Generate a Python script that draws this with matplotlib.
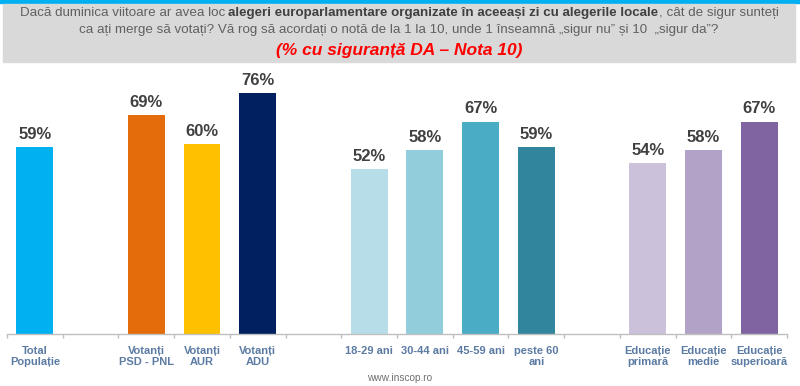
import matplotlib
matplotlib.use("Agg")
import matplotlib.pyplot as plt
from matplotlib.patches import Rectangle

plt.rcParams['font.family'] = ['Liberation Sans', 'DejaVu Sans']

categories = ["Total\nPopulație", "", "Votanți\nPSD - PNL", "Votanți\nAUR", "Votanți\nADU", "",
              "18-29 ani", "30-44 ani", "45-59 ani", "peste 60\nani", "",
              "Educație\nprimară", "Educație\nmedie", "Educație\nsuperioară"]
values = [59, None, 69, 60, 76, None, 52, 58, 67, 59, None, 54, 58, 67]
colors = ["#00B0F0", None, "#E46C0A", "#FFC000", "#002060", None,
          "#B7DEE8", "#92CDDC", "#4BACC6", "#31859C", None,
          "#CCC1DA", "#B3A2C7", "#8064A2"]

W, H = 800, 386
fig = plt.figure(figsize=(8, 3.86), dpi=100)

# header
fig.patches.append(Rectangle((0, 1 - 2.5 / H), 1, 2.5 / H, transform=fig.transFigure,
                             color="#00B0F0", zorder=0))
fig.patches.append(Rectangle((3 / W, 1 - 62 / H), 792 / W, 58 / H, transform=fig.transFigure,
                             color="#D9D9D9", zorder=0))

fs = 9.6
line1 = [("Dacă duminica viitoare ar avea loc ", "normal", "#606060"),
         ("alegeri europarlamentare organizate în aceeași zi cu alegerile locale", "bold", "#404040"),
         (", cât de sigur sunteți", "normal", "#606060")]
line2 = [("ca ați merge să votați? Vă rog să acordați o notă de la 1 la 10, unde 1 înseamnă „sigur nu” și 10  „sigur da”?",
          "normal", "#606060")]

renderer = fig.canvas.get_renderer()


def draw_line(pieces, ycenter_px):
    texts = []
    for s, w, c in pieces:
        t = fig.text(0, 1 - ycenter_px / H, s, fontsize=fs, fontweight=w, color=c,
                     ha="left", va="center")
        texts.append(t)
    widths = [t.get_window_extent(renderer).width for t in texts]
    total = sum(widths)
    x = 399 - total / 2
    for t, wd in zip(texts, widths):
        t.set_x(x / W)
        x += wd


draw_line(line1, 13)
draw_line(line2, 29.5)
fig.text(399 / W, 1 - 50 / H, "(% cu siguranță DA – Nota 10)", fontsize=12.5, fontweight="bold",
         fontstyle="italic", color="#FF0000", ha="center", va="center")

ax = fig.add_axes([7 / W, 52 / H, 780 / W, 260 / H])
for i, (v, c) in enumerate(zip(values, colors)):
    if v is None:
        continue
    ax.bar(i, v, width=0.66, color=c, zorder=2)
    ax.text(i, v + 1.6, f"{v}%", ha="center", va="bottom", fontsize=12, fontweight="bold",
            color="#404040")

ax.set_xlim(-0.5, len(categories) - 0.5)
ax.set_ylim(0, 82)
for s in ["top", "right", "left"]:
    ax.spines[s].set_visible(False)
ax.spines["bottom"].set_color("#BFBFBF")
ax.spines["bottom"].set_linewidth(1.0)
ax.set_yticks([])
ax.set_xticks([i - 0.5 for i in range(len(categories) + 1)])
ax.set_xticklabels([])
ax.tick_params(axis="x", length=3, color="#BFBFBF", width=1.0)
for i, lab in enumerate(categories):
    if lab:
        ax.text(i, -3.8, lab, ha="center", va="top", fontsize=8, fontweight="bold",
                color="#5B7BA3", linespacing=1.15)

fig.text(400 / W, 1 - 378 / H, "www.inscop.ro", fontsize=7.3, color="#707070", ha="center",
         va="center")

fig.savefig("out.png", dpi=100)
